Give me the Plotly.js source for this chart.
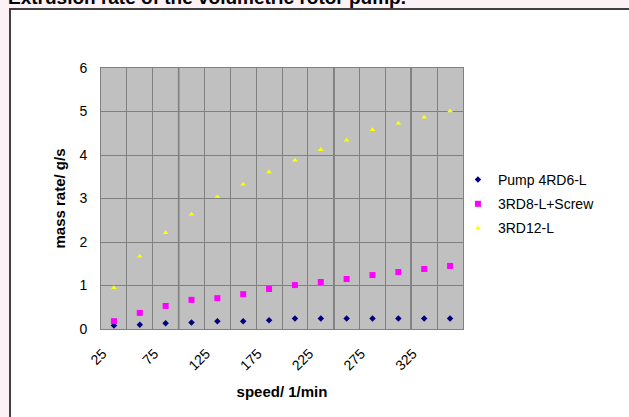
<!DOCTYPE html>
<html>
<head>
<meta charset="utf-8">
<script src="https://cdn.plot.ly/plotly-3.0.1.min.js"></script>
<style>
  html, body { margin: 0; padding: 0; background: #fcf1f4; width: 629px; height: 417px; overflow: hidden; }
  #frame { position: absolute; left: 9px; top: 8px; width: 640px; height: 420px; background: #ffffff;
           border-left: 2px solid #404040; border-top: 2px solid #404040; }
  #chart { position: absolute; left: 0; top: 0; width: 629px; height: 417px; }
</style>
</head>
<body>
<div id="frame"></div>
<div id="chart"></div>
<script>
// Data
const speeds = [25, 50, 75, 100, 125, 150, 175, 200, 225, 250, 275, 300, 325, 350];
const pump4RD6L = [0.08, 0.10, 0.13, 0.15, 0.18, 0.18, 0.20, 0.24, 0.24, 0.24, 0.24, 0.24, 0.24, 0.24];
const rd8LScrew = [0.18, 0.37, 0.53, 0.67, 0.71, 0.80, 0.92, 1.01, 1.08, 1.15, 1.24, 1.31, 1.38, 1.45];
const rd12L = [0.95, 1.67, 2.21, 2.64, 3.04, 3.33, 3.61, 3.88, 4.12, 4.34, 4.58, 4.73, 4.87, 5.01];
const tickLabels = [25, 75, 125, 175, 225, 275, 325];
const seriesNames = ["Pump 4RD6-L", "3RD8-L+Screw", "3RD12-L"];
const titleText = "Extrusion rate of the volumetric rotor pump.";
const xTitle = "speed/ 1/min";
const yTitle = "mass rate/ g/s";
// emphasised grid lines (black) in the reference
const dividerSpeeds = [87.5, 237.5, 312.5];
const dividerRates = [1];

const FONT = "Liberation Sans, Arial, sans-serif";
const LABEL_SHIFT = 11; // rotated labels sit slightly left of their category centre

const traces = [
  { x: speeds, y: pump4RD6L, name: seriesNames[0], legendgroup: "a", type: "scatter", mode: "markers",
    marker: { symbol: "diamond", size: 5, color: "#000080" } },
  { x: speeds, y: rd8LScrew, name: seriesNames[1], legendgroup: "b", type: "scatter", mode: "markers",
    marker: { symbol: "square", size: 6, color: "#ff00ff" } },
  { x: speeds, y: rd12L, name: seriesNames[2], legendgroup: "c", type: "scatter", mode: "markers",
    marker: { symbol: "triangle-up", size: 5, color: "#ffff00" } }
];

const shapes = [];
dividerSpeeds.forEach(s => shapes.push({ type: "line", xref: "x", yref: "paper", x0: s, x1: s, y0: 0, y1: 1,
  line: { color: "#000000", width: 1.2 }, layer: "between" }));
dividerRates.forEach(r => shapes.push({ type: "line", xref: "paper", yref: "y", x0: 0, x1: 1, y0: r, y1: r,
  line: { color: "#000000", width: 1.2 }, layer: "between" }));

const layout = {
  width: 629, height: 417,
  paper_bgcolor: "rgba(0,0,0,0)",
  plot_bgcolor: "#c0c0c0",
  margin: { l: 101, r: 166, t: 68, b: 88 },
  font: { family: FONT, size: 14, color: "#000000" },
  title: { text: titleText, xref: "container", yref: "container", x: 8 / 629, xanchor: "left",
           y: 1 - 4 / 417, yanchor: "bottom", font: { family: FONT, size: 19, weight: "bold", color: "#000000" } },
  xaxis: {
    range: [12.5, 362.5], tickmode: "array",
    tickvals: tickLabels.map(v => v - LABEL_SHIFT), ticktext: tickLabels.map(String), tickangle: -45,
    showgrid: false, zeroline: false, ticks: "", ticklabelstandoff: 10,
    minor: { tickmode: "linear", tick0: 12.5, dtick: 25, showgrid: true, gridcolor: "#808080", gridwidth: 1, ticks: "" },
    showline: true, linecolor: "#808080", linewidth: 1, mirror: true,
    title: { text: xTitle, font: { family: FONT, size: 15, weight: "bold" }, standoff: 14 },
    tickfont: { size: 14 }
  },
  yaxis: {
    range: [0, 6], tickmode: "linear", tick0: 0, dtick: 1,
    showgrid: true, gridcolor: "#808080", gridwidth: 1, zeroline: false, ticks: "", ticklabelstandoff: 10,
    showline: true, linecolor: "#808080", linewidth: 1, mirror: true,
    title: { text: yTitle, font: { family: FONT, size: 15, weight: "bold" }, standoff: 10 },
    tickfont: { size: 14 }
  },
  legend: { x: 0.986, xanchor: "left", y: 0.479, yanchor: "middle", bgcolor: "rgba(0,0,0,0)",
            font: { family: FONT, size: 14 }, tracegroupgap: 3, itemsizing: "trace" },
  shapes: shapes,
  showlegend: true
};

Plotly.newPlot("chart", traces, layout, { displayModeBar: false, staticPlot: true });
</script>
</body>
</html>
